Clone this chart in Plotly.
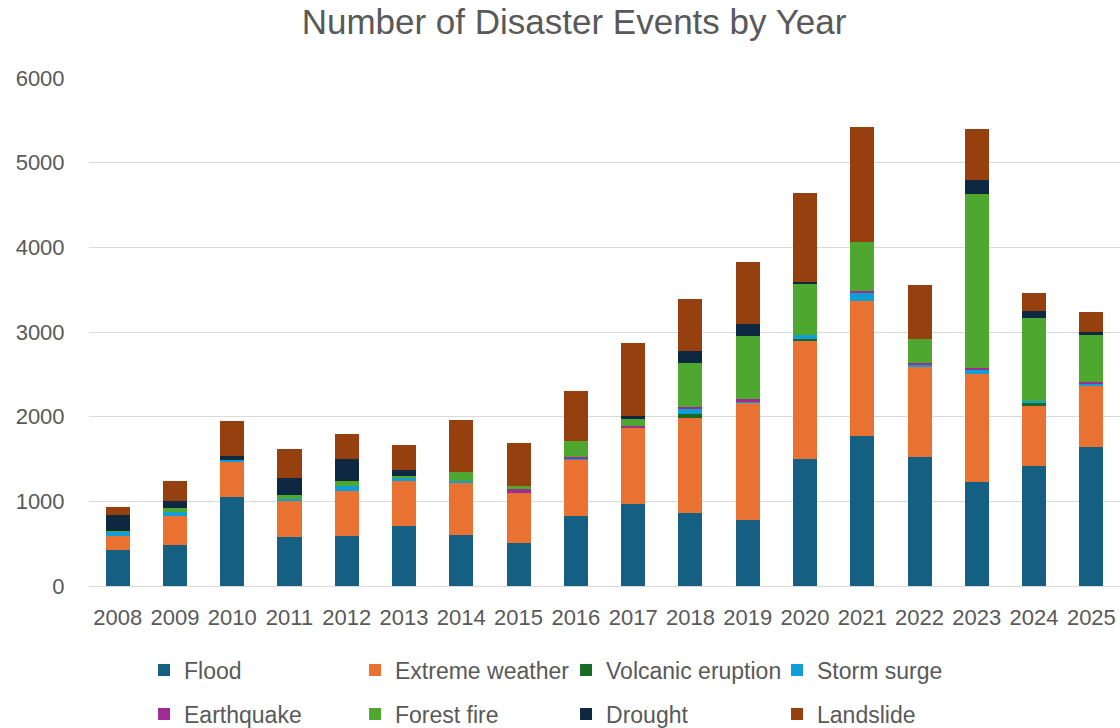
import plotly.graph_objects as go

years = [str(y) for y in range(2008, 2026)]

flood = [420, 490, 1057, 584, 585, 709, 603, 508, 824, 966, 859, 777, 1498, 1769, 1520, 1224, 1413, 1638]
extreme_weather = [170, 342, 413, 425, 543, 532, 614, 591, 662, 898, 1124, 1383, 1395, 1602, 1078, 1279, 723, 735]
volcanic_eruption = [0, 0, 0, 0, 0, 0, 0, 0, 0, 0, 47, 0, 24, 0, 0, 0, 23, 0]
storm_surge = [52, 47, 24, 24, 51, 32, 24, 0, 24, 0, 71, 24, 51, 91, 23, 51, 24, 23]
earthquake = [0, 0, 0, 0, 0, 0, 0, 48, 15, 24, 16, 23, 0, 24, 16, 24, 0, 12]
forest_fire = [5, 48, 0, 47, 56, 27, 107, 35, 186, 95, 516, 745, 599, 580, 280, 2057, 983, 557]
drought = [190, 82, 36, 201, 260, 71, 0, 0, 0, 23, 142, 142, 24, 0, 0, 166, 83, 35]
landslide = [95, 236, 413, 343, 295, 296, 614, 508, 591, 864, 615, 733, 1052, 1350, 640, 592, 213, 237]

series = [
    ("Flood", flood, "#156082", "legend"),
    ("Extreme weather", extreme_weather, "#E97132", "legend"),
    ("Volcanic eruption", volcanic_eruption, "#196B24", "legend"),
    ("Storm surge", storm_surge, "#0F9ED5", "legend"),
    ("Earthquake", earthquake, "#A02B93", "legend2"),
    ("Forest fire", forest_fire, "#4EA72E", "legend2"),
    ("Drought", drought, "#0E2841", "legend2"),
    ("Landslide", landslide, "#96400F", "legend2"),
]

FONT = "Liberation Sans"
GREY = "#595959"

fig = go.Figure()
for name, vals, color, leg in series:
    fig.add_trace(go.Bar(x=years, y=vals, name=name, marker=dict(color=color, line=dict(width=0)),
                         legend=leg))

legend_common = dict(orientation="h", xref="container", yref="container", xanchor="left", yanchor="middle",
                      entrywidth=166, entrywidthmode="pixels", font=dict(family=FONT, size=23, color=GREY),
                      bgcolor="rgba(0,0,0,0)", traceorder="normal", itemclick=False)

fig.update_layout(
    width=1120, height=728,
    margin=dict(l=89, r=0, t=78, b=142, autoexpand=False),
    barmode="stack", bargap=0.58,
    plot_bgcolor="white", paper_bgcolor="white",
    font=dict(family=FONT, color=GREY),
    title=dict(text="Number of Disaster Events by Year", x=0.5125, xanchor="center", y=0.97, yanchor="middle",
               xref="container", yref="container", font=dict(family=FONT, size=35, color=GREY)),
    legend=dict(x=0.1286, y=0.0797, **legend_common),
    legend2=dict(x=0.1286, y=0.0192, **legend_common),
    xaxis=dict(type="category", showgrid=False, showline=True, linecolor="#D9D9D9", linewidth=1,
               ticks="outside", ticklen=12, tickcolor="rgba(0,0,0,0)",
               tickfont=dict(family=FONT, size=22, color=GREY)),
    yaxis=dict(range=[0, 6000], dtick=1000, showgrid=True, gridcolor="#D9D9D9", gridwidth=1,
               zeroline=False, showline=False, ticks="outside", ticklen=19, tickcolor="rgba(0,0,0,0)",
               tickfont=dict(family=FONT, size=22, color=GREY)),
)

fig.write_html("out.html")
